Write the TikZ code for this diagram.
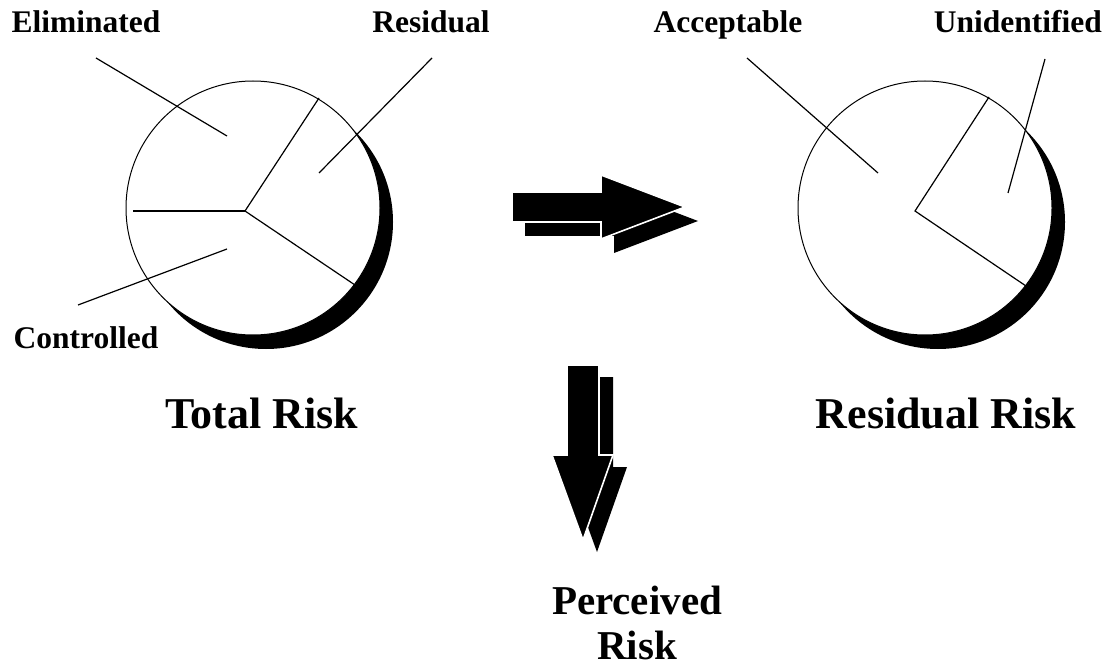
\documentclass[tikz,border=0pt]{standalone}
\usepackage{fontspec}
\setmainfont{Liberation Serif}

\begin{document}
\begin{tikzpicture}[x=1pt, y=-1pt,
    smalllabel/.style={font=\fontsize{31.5}{36}\selectfont\bfseries, inner sep=0pt, anchor=base},
    biglabel/.style={font=\fontsize{44}{45}\selectfont\bfseries, inner sep=0pt, anchor=base, align=center},
    pieline/.style={line width=1.2pt},
    blockarrow/.style={fill=black, draw=white, line width=1.6pt, line join=miter}]
    \useasboundingbox (0,0) rectangle (1109,671);

    % Total risk pie with its shadow
    \fill[black] (266,222) circle (127);
    \draw[fill=white, line width=1pt] (253,208) circle (127);
    \coordinate (tc) at (245,211);
    \coordinate (t1) at (133,211);
    \coordinate (t2) at (319,98);
    \coordinate (t3) at (355,285);
    \draw[pieline] (tc) -- (t1);
    \draw[pieline] (tc) -- (t2);
    \draw[pieline] (tc) -- (t3);

    % Residual risk pie with its shadow
    \fill[black] (938,222) circle (127);
    \draw[fill=white, line width=1pt] (925,208) circle (127);
    \coordinate (rc) at (915,211);
    \coordinate (r1) at (989,97);
    \coordinate (r2) at (1026,286);
    \draw[pieline] (r1) -- (rc) -- (r2);

    % Labels of the slices
    \node[smalllabel] (elim) at (86,33) {Eliminated};
    \node[smalllabel] (resid) at (431,33) {Residual};
    \node[smalllabel] (contr) at (86,348) {Controlled};
    \node[smalllabel] (accep) at (728,33) {Acceptable};
    \node[smalllabel, anchor=base east] (unid) at (1102,33) {Unidentified};

    % Leader lines
    \coordinate (elimA) at (96,58);    \coordinate (elimB) at (227,136);
    \coordinate (residA) at (432,58);  \coordinate (residB) at (319,173);
    \coordinate (contrA) at (78,305);  \coordinate (contrB) at (227,249);
    \coordinate (accepA) at (747,58);  \coordinate (accepB) at (878,173);
    \coordinate (unidA) at (1045,59);  \coordinate (unidB) at (1008,193);
    \draw[pieline] (elimA) -- (elimB);
    \draw[pieline] (residA) -- (residB);
    \draw[pieline] (contrA) -- (contrB);
    \draw[pieline] (accepA) -- (accepB);
    \draw[pieline] (unidA) -- (unidB);

    % Captions
    \node[biglabel] (total) at (262,428) {Total Risk};
    \node[biglabel] (resrisk) at (946,428) {Residual Risk};
    \node[biglabel, font=\fontsize{41}{45}\selectfont\bfseries] (perc) at (637,659) {Perceived\\Risk};

    % Block arrow to the right, shadow first
    \fill[black, shift={(13,14)}] (512,192) -- (601,192) -- (601,175) -- (685,207)
        -- (601,239) -- (601,222) -- (512,222) -- cycle;
    \filldraw[blockarrow] (512,192) -- (601,192) -- (601,175) -- (685,207)
        -- (601,239) -- (601,222) -- (512,222) -- cycle;

    % Block arrow downwards, shadow first
    \fill[black, shift={(14,12)}] (567,365) -- (599,365) -- (599,455) -- (613,455)
        -- (583,540) -- (552,455) -- (567,455) -- cycle;
    \filldraw[blockarrow] (567,365) -- (599,365) -- (599,455) -- (613,455)
        -- (583,540) -- (552,455) -- (567,455) -- cycle;
\end{tikzpicture}
\end{document}
